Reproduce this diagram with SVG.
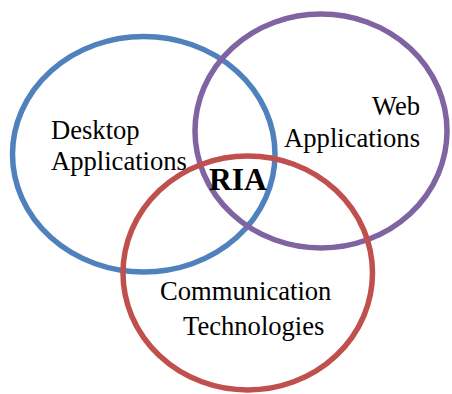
<svg xmlns="http://www.w3.org/2000/svg" width="452" height="394" viewBox="0 0 452 394">
<style>
.c{fill:none;stroke-width:5.5}
.t{font-family:"Liberation Serif","Times New Roman",serif;font-size:26.6px;fill:#000}
.b{font-weight:bold;font-size:31.5px}
</style>
<rect width="452" height="394" fill="#fff"/>
<g id="desktop">
<ellipse class="c" cx="143.75" cy="154.25" rx="131.25" ry="117.75" stroke="#4F81BD"/>
</g>
<g id="web">
<ellipse class="c" cx="321" cy="131" rx="126" ry="117" stroke="#8064A2"/>
</g>
<g id="comm">
<ellipse class="c" cx="247.75" cy="273" rx="124.75" ry="117" stroke="#C0504D"/>
</g>
<g id="labels">
<text class="t" x="51" y="138.5">Desktop</text>
<text class="t" x="51" y="169.5">Applications</text>
<text class="t" x="420" y="115" text-anchor="end">Web</text>
<text class="t" x="420" y="146.5" text-anchor="end">Applications</text>
<text class="t" x="160" y="300">Communication</text>
<text class="t" x="183" y="335">Technologies</text>
<text class="t b" x="209" y="190">RIA</text>
</g>
</svg>
